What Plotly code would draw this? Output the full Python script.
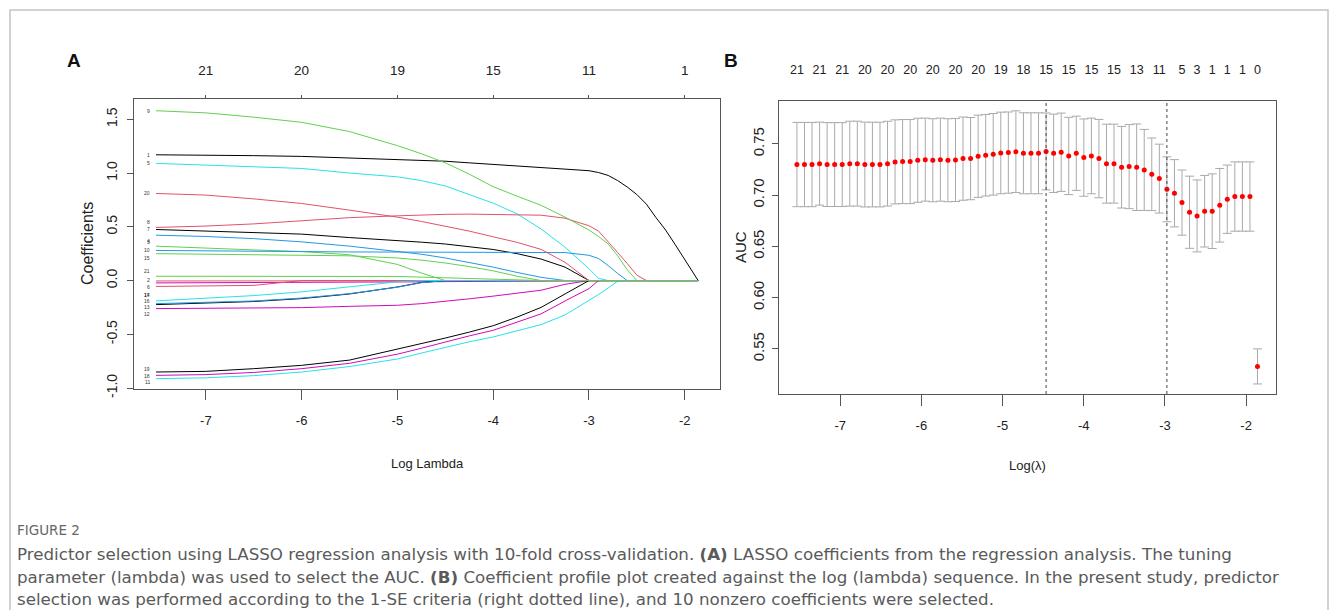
import plotly.graph_objects as go

# ---------------- Panel A : LASSO coefficient paths ----------------
coef_loglambda = [-7.52, -7.0, -6.5, -6.0, -5.5, -5.0, -4.75, -4.5, -4.25, -4.0, -3.75, -3.5, -3.25,
                  -3.0, -2.9, -2.8, -2.7, -2.6, -2.5, -2.4, -2.3, -2.2, -2.1, -2.0, -1.86]

coef_v1 = [1.17, 1.168, 1.162, 1.155, 1.14, 1.125, 1.117, 1.11, 1.095, 1.08, 1.065, 1.05, 1.04,
           1.022, 1.005, 0.978, 0.93, 0.87, 0.80, 0.71, 0.585, 0.47, 0.335, 0.19, 0.0]
coef_v2 = [-0.004, -0.004, -0.004, -0.004, -0.003, -0.002, 0, 0, 0, 0, 0, 0, 0,
           0, 0, 0, 0, 0, 0, 0, 0, 0, 0, 0, 0]
coef_v3 = [0.32, 0.30, 0.285, 0.27, 0.24, 0.15, 0.07, 0, 0, 0, 0, 0, 0,
           0, 0, 0, 0, 0, 0, 0, 0, 0, 0, 0, 0]
coef_v4 = [0.422, 0.41, 0.39, 0.36, 0.32, 0.27, 0.245, 0.21, 0.17, 0.125, 0.075, 0.03, 0,
           0, 0, 0, 0, 0, 0, 0, 0, 0, 0, 0, 0]
coef_v5 = [1.09, 1.075, 1.06, 1.043, 1.0, 0.965, 0.93, 0.88, 0.80, 0.72, 0.62, 0.48, 0.31,
           0.11, 0.02, 0, 0, 0, 0, 0, 0, 0, 0, 0, 0]
coef_v6 = [-0.022, -0.021, -0.021, -0.02, -0.018, -0.015, -0.012, -0.01, -0.008, -0.005, -0.002, 0, 0,
           0, 0, 0, 0, 0, 0, 0, 0, 0, 0, 0, 0]
coef_v7 = [0.475, 0.462, 0.447, 0.432, 0.40, 0.374, 0.357, 0.34, 0.315, 0.289, 0.25, 0.20, 0.125,
           0, 0, 0, 0, 0, 0, 0, 0, 0, 0, 0, 0]
coef_v8 = [0.494, 0.507, 0.527, 0.556, 0.585, 0.602, 0.61, 0.616, 0.618, 0.617, 0.613, 0.608, 0.58,
           0.51, 0.46, 0.365, 0.26, 0.158, 0.05, 0, 0, 0, 0, 0, 0]
coef_v9 = [1.58, 1.56, 1.52, 1.472, 1.386, 1.255, 1.18, 1.095, 0.99, 0.873, 0.785, 0.70, 0.59,
           0.47, 0.41, 0.34, 0.23, 0.10, 0, 0, 0, 0, 0, 0, 0]
coef_v10 = [0.28, 0.275, 0.27, 0.268, 0.266, 0.265, 0.265, 0.266, 0.267, 0.267, 0.267, 0.267, 0.26,
            0.235, 0.205, 0.14, 0.065, 0, 0, 0, 0, 0, 0, 0, 0]
coef_v11 = [-0.913, -0.905, -0.885, -0.851, -0.80, -0.73, -0.675, -0.62, -0.57, -0.525, -0.47, -0.41, -0.32,
            -0.19, -0.13, -0.07, -0.005, 0, 0, 0, 0, 0, 0, 0, 0]
coef_v12 = [-0.261, -0.258, -0.255, -0.252, -0.24, -0.23, -0.215, -0.195, -0.17, -0.145, -0.115, -0.09, -0.035,
            0, 0, 0, 0, 0, 0, 0, 0, 0, 0, 0, 0]
coef_v13 = [-0.224, -0.21, -0.195, -0.168, -0.125, -0.06, -0.018, 0, 0, 0, 0, 0, 0,
            0, 0, 0, 0, 0, 0, 0, 0, 0, 0, 0, 0]
coef_v14 = [-0.055, -0.053, -0.045, 0, 0, 0, 0, 0, 0, 0, 0, 0, 0,
            0, 0, 0, 0, 0, 0, 0, 0, 0, 0, 0, 0]
coef_v15 = [0.25, 0.245, 0.24, 0.237, 0.23, 0.21, 0.19, 0.163, 0.13, 0.09, 0.04, 0, 0,
            0, 0, 0, 0, 0, 0, 0, 0, 0, 0, 0, 0]
coef_v16 = [-0.215, -0.205, -0.19, -0.163, -0.122, -0.062, -0.02, 0, 0, 0, 0, 0, 0,
            0, 0, 0, 0, 0, 0, 0, 0, 0, 0, 0, 0]
coef_v17 = [-0.189, -0.165, -0.14, -0.105, -0.06, -0.012, 0, 0, 0, 0, 0, 0, 0,
            0, 0, 0, 0, 0, 0, 0, 0, 0, 0, 0, 0]
coef_v18 = [-0.882, -0.875, -0.855, -0.82, -0.77, -0.685, -0.63, -0.57, -0.515, -0.463, -0.39, -0.31, -0.19,
            -0.075, 0, 0, 0, 0, 0, 0, 0, 0, 0, 0, 0]
coef_v19 = [-0.851, -0.845, -0.82, -0.789, -0.74, -0.64, -0.59, -0.535, -0.48, -0.42, -0.34, -0.25, -0.125,
            0, 0, 0, 0, 0, 0, 0, 0, 0, 0, 0, 0]
coef_v20 = [0.81, 0.795, 0.76, 0.717, 0.655, 0.59, 0.55, 0.505, 0.46, 0.407, 0.355, 0.29, 0.17,
            0, 0, 0, 0, 0, 0, 0, 0, 0, 0, 0, 0]
coef_v21 = [0.04, 0.04, 0.04, 0.039, 0.039, 0.038, 0.032, 0.025, 0.018, 0.01, 0.005, 0, 0,
            0, 0, 0, 0, 0, 0, 0, 0, 0, 0, 0, 0]

coef_paths = [coef_v1, coef_v2, coef_v3, coef_v4, coef_v5, coef_v6, coef_v7, coef_v8, coef_v9, coef_v10,
              coef_v11, coef_v12, coef_v13, coef_v14, coef_v15, coef_v16, coef_v17, coef_v18, coef_v19,
              coef_v20, coef_v21]

a_ticks = [-7, -6, -5, -4, -3, -2]
a_top_df = ["21", "20", "19", "15", "11", "1"]
a_yticks = [-1.0, -0.5, 0.0, 0.5, 1.0, 1.5]

# ---------------- Panel B : cross-validated AUC ----------------
cv_loglambda = [-7.533, -7.440, -7.347, -7.254, -7.161, -7.068, -6.975, -6.882, -6.789, -6.696,
                -6.603, -6.510, -6.417, -6.324, -6.231, -6.138, -6.045, -5.952, -5.859, -5.766,
                -5.673, -5.580, -5.487, -5.394, -5.301, -5.208, -5.115, -5.022, -4.929, -4.836,
                -4.743, -4.650, -4.557, -4.464, -4.371, -4.278, -4.185, -4.092, -3.999, -3.906,
                -3.813, -3.720, -3.627, -3.534, -3.441, -3.348, -3.255, -3.162, -3.069, -2.976,
                -2.883, -2.790, -2.697, -2.604, -2.511, -2.418, -2.325, -2.232, -2.139, -2.046,
                -1.953, -1.860]
cv_auc = [0.7299, 0.7299, 0.7299, 0.7308, 0.7299, 0.7299, 0.7299, 0.7308, 0.7308, 0.7299,
          0.7299, 0.7299, 0.7308, 0.7325, 0.7328, 0.7328, 0.7341, 0.7347, 0.7341, 0.7347,
          0.7341, 0.7344, 0.7357, 0.7357, 0.7380, 0.7390, 0.7399, 0.7412, 0.7416, 0.7425,
          0.7409, 0.7409, 0.7409, 0.7427, 0.7409, 0.7419, 0.7383, 0.7409, 0.7367, 0.7383,
          0.7357, 0.7308, 0.7308, 0.7273, 0.7279, 0.7273, 0.7247, 0.7204, 0.7162, 0.7058,
          0.7019, 0.6928, 0.6834, 0.6798, 0.6844, 0.6844, 0.6902, 0.6961, 0.6987, 0.6987,
          0.6987, 0.5330]
cv_se = [0.0411, 0.0411, 0.0411, 0.0405, 0.0409, 0.0409, 0.0409, 0.0414, 0.0414, 0.0414,
         0.0413, 0.0413, 0.0413, 0.0410, 0.0410, 0.0410, 0.0410, 0.0405, 0.0405, 0.0405,
         0.0405, 0.0405, 0.0406, 0.0401, 0.0401, 0.0398, 0.0398, 0.0398, 0.0396, 0.0398,
         0.0395, 0.0395, 0.0395, 0.0375, 0.0382, 0.0382, 0.0377, 0.0362, 0.0377, 0.0369,
         0.0382, 0.0385, 0.0385, 0.0398, 0.0410, 0.0422, 0.0395, 0.0354, 0.0336, 0.0317,
         0.0328, 0.0318, 0.0352, 0.0351, 0.0349, 0.0364, 0.0359, 0.0333, 0.0338, 0.0338,
         0.0338, 0.0171]
lambda_min_log = -4.464
lambda_1se_log = -2.976
b_nzero_idx = [0, 3, 6, 9, 12, 15, 18, 21, 24, 27, 30, 33, 36, 39, 42, 45, 48, 51, 53, 55, 57, 59, 61]
b_nzero_lab = ["21", "21", "21", "20", "20", "20", "20", "20", "20", "19", "18", "15", "15", "15", "15",
               "13", "11", "5", "3", "1", "1", "1", "0"]
b_ticks = [-7, -6, -5, -4, -3, -2]
b_yticks = [0.55, 0.60, 0.65, 0.70, 0.75]

caption_title = "FIGURE 2"
caption_lines = [
    "Predictor selection using LASSO regression analysis with 10-fold cross-validation. <b>(A)</b> LASSO coefficients from the regression analysis. The tuning",
    "parameter (lambda) was used to select the AUC. <b>(B)</b> Coefficient profile plot created against the log (lambda) sequence. In the present study, predictor",
    "selection was performed according to the 1-SE criteria (right dotted line), and 10 nonzero coefficients were selected.",
]

# ---------------- style ----------------
W, H = 1335, 610
R_PALETTE = ["#000000", "#DF536B", "#61D04F", "#2297E6", "#28E2E5", "#CD0BBC"]
SANS = "Liberation Sans, Arial, sans-serif"
CAP = "DejaVu Sans, sans-serif"
AX = "#555555"
TXT = "#222222"
# small vertical shifts (px) so the stacked path labels of panel A do not collide
label_shift = {1: 0, 2: 0.5, 3: 4.5, 4: -5.5, 5: 0, 6: -4.5, 7: 0, 8: 5.5, 9: 0, 10: 0, 11: -3.5,
               12: -5, 13: -2, 14: -9, 15: -4, 16: 2.5, 17: 6, 18: -0.5, 19: 3, 20: 0, 21: 5.5}


def px_x(p):
    return p / W


def px_y(p):
    return 1 - p / H


fig = go.Figure()

for i, path in enumerate(coef_paths):
    fig.add_trace(go.Scatter(x=coef_loglambda, y=path, mode="lines", xaxis="x", yaxis="y",
                             line=dict(color=R_PALETTE[i % 6], width=1), showlegend=False,
                             hoverinfo="skip"))

fig.add_trace(go.Scatter(x=[None], y=[None], xaxis="x3", yaxis="y", showlegend=False))

fig.add_trace(go.Scatter(x=cv_loglambda, y=cv_auc, mode="markers", xaxis="x2", yaxis="y2",
                         marker=dict(color="#FF0000", size=5),
                         error_y=dict(type="data", array=cv_se, visible=True, color="#a9a9a9",
                                      thickness=1, width=4.5),
                         showlegend=False, hoverinfo="skip"))
fig.add_trace(go.Scatter(x=[None], y=[None], xaxis="x4", yaxis="y2", showlegend=False))

annotations = []
for i, path in enumerate(coef_paths):
    annotations.append(dict(x=-7.56, y=path[0], xref="x", yref="y", text=str(i + 1), showarrow=False,
                            xanchor="right", yanchor="middle", yshift=label_shift[i + 1],
                            font=dict(family=SANS, size=5, color="#333333")))


def label(x, y, text, size, family=SANS, angle=0, color=TXT, xanchor="center"):
    return dict(x=px_x(x), y=px_y(y), xref="paper", yref="paper", text=text, showarrow=False,
                xanchor=xanchor, yanchor="middle", textangle=angle,
                font=dict(family=family, size=size, color=color))


annotations += [
    label(74, 60, "<b>A</b>", 19, color="#111111"),
    label(731, 60, "<b>B</b>", 19, color="#111111"),
    label(87, 244, "Coefficients", 16, angle=-90),
    label(427, 463, "Log Lambda", 13),
    label(740, 247, "AUC", 15, angle=-90),
    label(1027, 465, "Log(λ)", 13),
    label(15, 530, caption_title, 13.5, family=CAP, color="#666666", xanchor="left"),
]
for k, line in enumerate(caption_lines):
    annotations.append(label(15, 554 + 22.7 * k, line, 16.7, family=CAP, color="#5a5a5a", xanchor="left"))

shapes = [
    dict(type="rect", xref="paper", yref="paper", x0=px_x(10), x1=px_x(1328), y0=-0.2, y1=px_y(10),
         line=dict(color="#c4c4c4", width=1.5), fillcolor="rgba(0,0,0,0)", layer="below"),
    dict(type="line", xref="x2", yref="y2 domain", x0=lambda_min_log, x1=lambda_min_log, y0=0, y1=1,
         line=dict(color="#444444", width=1, dash="dot")),
    dict(type="line", xref="x2", yref="y2 domain", x0=lambda_1se_log, x1=lambda_1se_log, y0=0, y1=1,
         line=dict(color="#444444", width=1, dash="dot")),
]

xr = [-7.75, -1.632]
common_x = dict(range=xr, showgrid=False, zeroline=False, showline=True, mirror=True, linecolor=AX,
                linewidth=1, ticks="outside", tickcolor=AX, automargin=False,
                tickfont=dict(family=SANS, size=13, color=TXT))
common_y = dict(showgrid=False, zeroline=False, showline=True, mirror=True, linecolor=AX, linewidth=1,
                ticks="outside", tickcolor=AX, ticklen=6, tickangle=-90, automargin=False)

fig.update_layout(
    width=W, height=H, margin=dict(l=0, r=0, t=0, b=0),
    paper_bgcolor="white", plot_bgcolor="white", showlegend=False,
    xaxis=dict(common_x, domain=[px_x(134), px_x(720)], anchor="y", tickvals=a_ticks,
               ticktext=[str(t) for t in a_ticks], ticklen=10, ticklabelstandoff=9),
    yaxis=dict(common_y, domain=[px_y(389), px_y(99)], anchor="x", range=[-1.009, 1.689],
               tickvals=a_yticks, ticktext=["%.1f" % v for v in a_yticks], ticklabelstandoff=4,
               tickfont=dict(family=SANS, size=14, color=TXT)),
    xaxis3=dict(range=xr, overlaying="x", anchor="y", side="top", showgrid=False, zeroline=False,
                showline=False, ticks="outside", ticklen=3, tickcolor=AX, tickvals=a_ticks,
                ticktext=a_top_df, automargin=False, ticklabelstandoff=15,
                tickfont=dict(family=SANS, size=13.5, color=TXT)),
    xaxis2=dict(common_x, domain=[px_x(779.3), px_x(1276)], anchor="y2", tickvals=b_ticks,
                ticktext=[str(t) for t in b_ticks], ticklen=11, ticklabelstandoff=8),
    yaxis2=dict(common_y, domain=[px_y(394), px_y(101)], anchor="x2", range=[0.5061, 0.7919],
                tickvals=b_yticks, ticktext=["%.2f" % v for v in b_yticks], ticklabelstandoff=2,
                tickfont=dict(family=SANS, size=15, color=TXT)),
    xaxis4=dict(range=xr, overlaying="x2", anchor="y2", side="top", showgrid=False, zeroline=False,
                showline=False, ticks="", tickvals=[cv_loglambda[i] for i in b_nzero_idx],
                ticktext=b_nzero_lab, automargin=False, ticklabelstandoff=24,
                tickfont=dict(family=SANS, size=12.5, color=TXT)),
    annotations=annotations,
    shapes=shapes,
)

fig.write_html("out.html")
